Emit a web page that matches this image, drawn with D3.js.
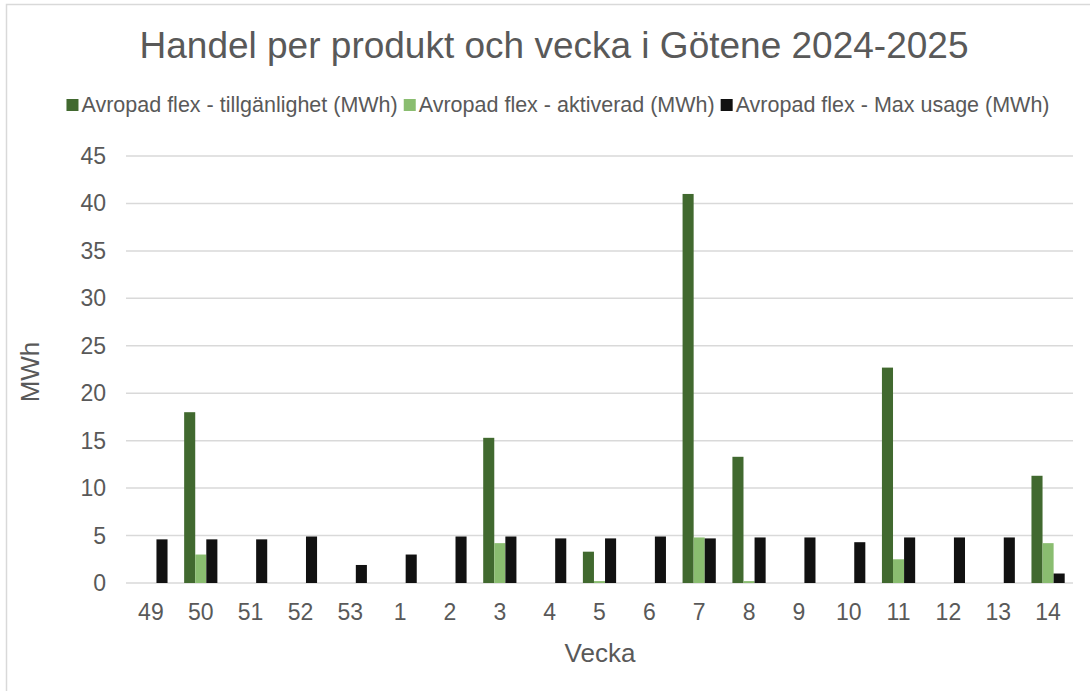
<html>
<head>
<meta charset="utf-8">
<script src="https://cdn.jsdelivr.net/npm/d3@7"></script>
<style>
  body { margin: 0; background: #fff; }
  text { font-family: "Liberation Sans", Arial, sans-serif; fill: #595959; }
</style>
</head>
<body>
<svg width="1090" height="691"></svg>
<script>
  const weeks = ["49", "50", "51", "52", "53", "1", "2", "3", "4", "5", "6", "7", "8", "9", "10", "11", "12", "13", "14"];
  const seriesNames = ["Avropad flex - tillgänlighet (MWh)", "Avropad flex - aktiverad (MWh)", "Avropad flex - Max usage (MWh)"];
  const tillganglighet = [0, 18.0, 0, 0, 0, 0, 0, 15.3, 0, 3.3, 0, 41.0, 13.3, 0, 0, 22.7, 0, 0, 11.3];
  const aktiverad = [0, 3.0, 0, 0, 0, 0, 0, 4.2, 0, 0.2, 0, 4.8, 0.2, 0, 0, 2.5, 0, 0, 4.2];
  const maxUsage = [4.6, 4.6, 4.6, 4.9, 1.9, 3.0, 4.9, 4.9, 4.7, 4.7, 4.9, 4.7, 4.8, 4.8, 4.3, 4.8, 4.8, 4.8, 1.0];
  const yTicks = [0, 5, 10, 15, 20, 25, 30, 35, 40, 45];
  const colors = ["#41692f", "#8abd70", "#111111"];

  const seriesValues = [tillganglighet, aktiverad, maxUsage];
  const rows = weeks.map((w, i) => ({week: w, values: seriesValues.map(s => s[i])}));

  const svg = d3.select("svg");

  // chart border
  svg.append("rect")
    .attr("x", 6.5).attr("y", 4.5)
    .attr("width", 1100).attr("height", 700)
    .attr("fill", "none")
    .attr("stroke", "#d9d9d9")
    .attr("stroke-width", 1.5);

  const x0 = d3.scaleBand().domain(weeks).range([126, 1073]);
  const x1 = d3.scaleBand().domain(d3.range(3)).range([0, x0.bandwidth()]).paddingOuter(0.75);
  const y = d3.scaleLinear().domain([0, 45]).range([583, 156]);

  // gridlines
  svg.append("g")
    .selectAll("line")
    .data(yTicks)
    .enter()
    .append("line")
    .attr("x1", 126).attr("x2", 1073)
    .attr("y1", d => y(d)).attr("y2", d => y(d))
    .attr("stroke", "#d9d9d9")
    .attr("stroke-width", 1.5);

  // y tick labels
  svg.append("g")
    .selectAll("text")
    .data(yTicks)
    .enter()
    .append("text")
    .attr("x", 106)
    .attr("y", d => y(d) + 8)
    .attr("text-anchor", "end")
    .attr("font-size", 23)
    .text(d => d);

  // bars
  svg.append("g")
    .selectAll("g")
    .data(rows)
    .enter()
    .append("g")
    .attr("transform", d => `translate(${x0(d.week)},0)`)
    .selectAll("rect")
    .data(d => d.values)
    .enter()
    .append("rect")
    .attr("x", (d, i) => x1(i))
    .attr("width", x1.bandwidth())
    .attr("y", d => y(d))
    .attr("height", d => y(0) - y(d))
    .attr("fill", (d, i) => colors[i]);

  // x tick labels
  svg.append("g")
    .selectAll("text")
    .data(weeks)
    .enter()
    .append("text")
    .attr("x", d => x0(d) + x0.bandwidth() / 2)
    .attr("y", 620)
    .attr("text-anchor", "middle")
    .attr("font-size", 23)
    .text(d => d);

  // axis titles
  svg.append("text")
    .attr("x", 600).attr("y", 662)
    .attr("text-anchor", "middle")
    .attr("font-size", 26)
    .text("Vecka");

  svg.append("text")
    .attr("transform", "translate(39,372) rotate(-90)")
    .attr("text-anchor", "middle")
    .attr("font-size", 26)
    .text("MWh");

  // title
  svg.append("text")
    .attr("x", 554).attr("y", 58)
    .attr("text-anchor", "middle")
    .attr("font-size", 37)
    .text("Handel per produkt och vecka i Götene 2024-2025");

  // legend
  const legend = svg.append("g");
  let lx = 0;
  seriesNames.forEach((name, i) => {
    const item = legend.append("g").attr("transform", `translate(${lx},0)`);
    item.append("rect")
      .attr("x", 0).attr("y", -13)
      .attr("width", 12).attr("height", 12)
      .attr("fill", colors[i]);
    const t = item.append("text")
      .attr("x", 15).attr("y", 0)
      .attr("font-size", 21.5)
      .text(name);
    lx += 15 + t.node().getComputedTextLength() + 6;
  });
  legend.attr("transform", `translate(${558 - (lx - 6) / 2},112)`);
</script>
</body>
</html>
